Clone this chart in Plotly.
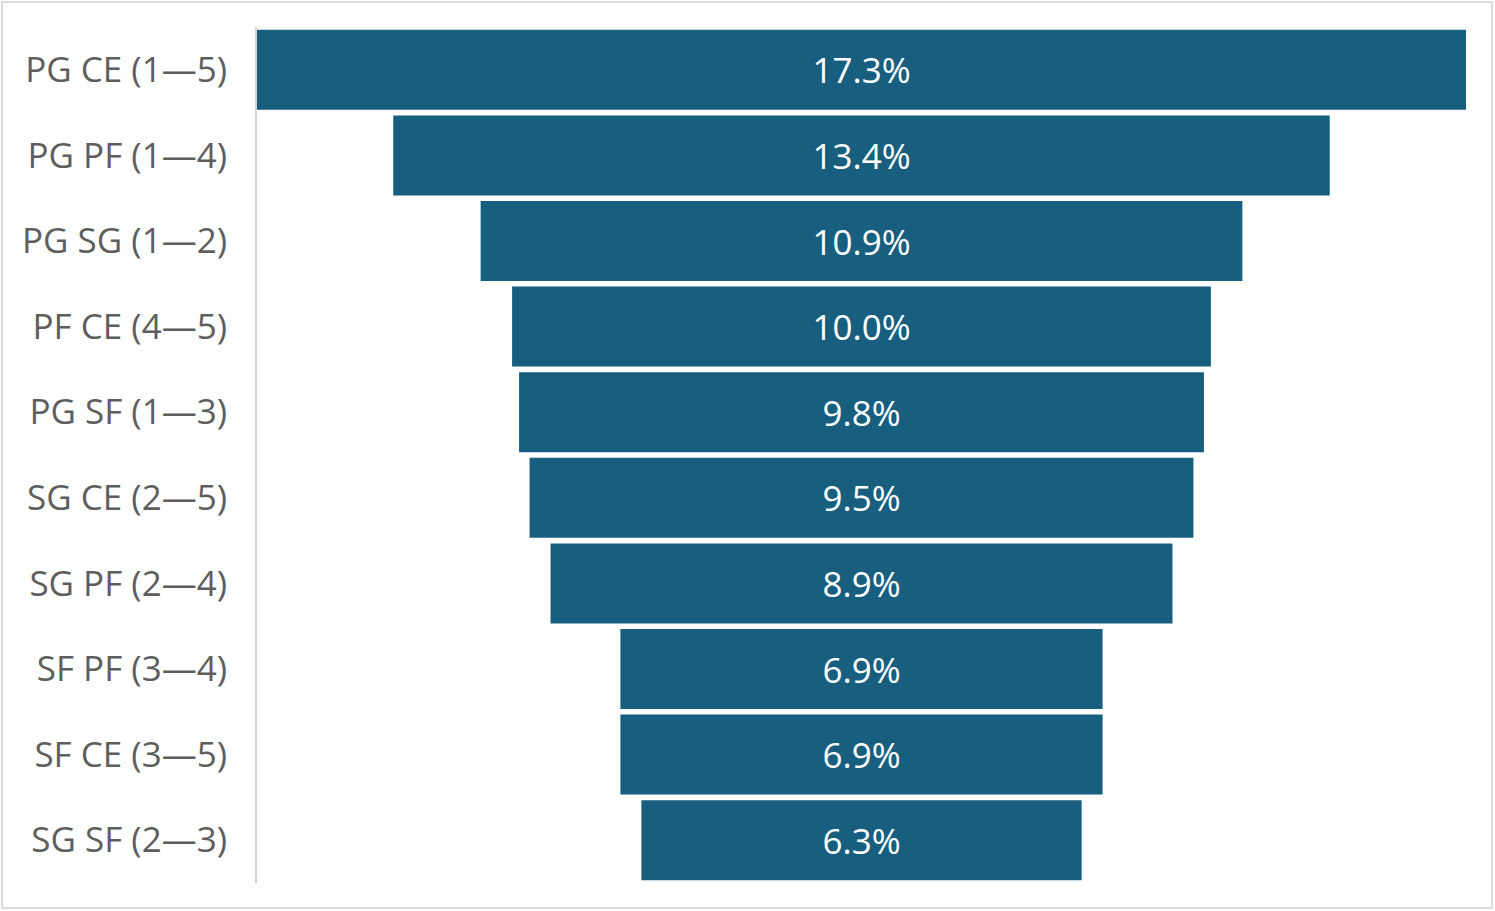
import plotly.graph_objects as go

categories = ["PG CE (1—5)", "PG PF (1—4)", "PG SG (1—2)", "PF CE (4—5)", "PG SF (1—3)",
              "SG CE (2—5)", "SG PF (2—4)", "SF PF (3—4)", "SF CE (3—5)", "SG SF (2—3)"]
values = [17.3, 13.4, 10.9, 10.0, 9.8, 9.5, 8.9, 6.9, 6.9, 6.3]

W, H = 1495, 911
L, R, T, B = 257, 29, 27, 28

fig = go.Figure(go.Funnel(
    y=categories,
    x=values,
    orientation="h",
    marker=dict(color="#185F7F", line=dict(width=0)),
    connector=dict(visible=False),
    texttemplate="%{x:.1f}%",
    textposition="inside",
    insidetextanchor="middle",
    textfont=dict(family="Open Sans", size=35, color="#FFFFFF"),
    constraintext="none",
    hoverinfo="skip",
))

pw = W - L - R
ph = H - T - B
fig.update_layout(
    width=W, height=H,
    margin=dict(l=L, r=R, t=T, b=B, autoexpand=False),
    paper_bgcolor="white", plot_bgcolor="white",
    funnelgap=0.065,
    showlegend=False,
    font=dict(family="Open Sans", color="#5E5E5E"),
    xaxis=dict(range=[-values[0] / 2, values[0] / 2], visible=False, fixedrange=True),
    yaxis=dict(
        showline=True, linecolor="#D6D6D6", linewidth=2,
        showgrid=False, zeroline=False, ticks="",
        tickfont=dict(family="Open Sans", size=35, color="#5E5E5E"),
        ticklabelstandoff=21,
        automargin=False,
    ),
    shapes=[dict(
        type="rect", xref="paper", yref="paper",
        x0=(2 - L) / pw, x1=(W - 3 - L) / pw,
        y0=-(B - 3) / ph, y1=1 + (T - 2) / ph,
        line=dict(color="#DCDCDC", width=2), fillcolor="rgba(0,0,0,0)", layer="below",
    )],
)

fig.write_html("out.html", config={"displayModeBar": False},
               post_script="document.body.style.margin='0';document.body.style.overflow='hidden';")
